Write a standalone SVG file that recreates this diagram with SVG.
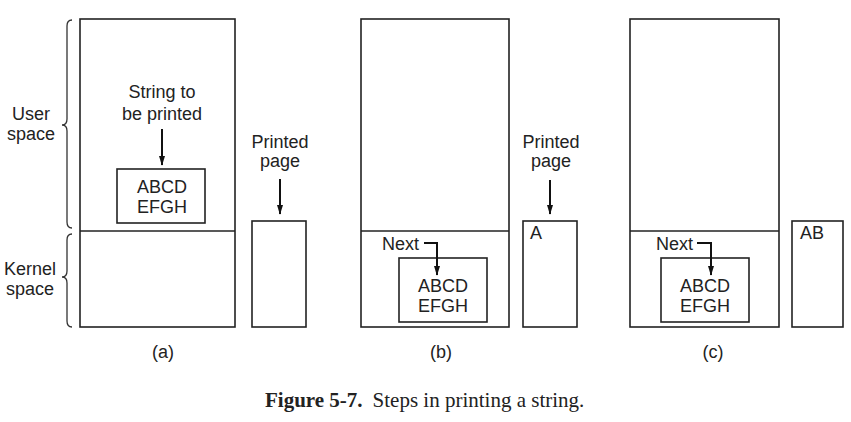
<svg xmlns="http://www.w3.org/2000/svg" width="851" height="422" viewBox="0 0 851 422">
<style>
.box{fill:none;stroke:#222;stroke-width:1.6}
.line{stroke:#222;stroke-width:1.3;fill:none}
.arr{stroke:#111;stroke-width:2;fill:none}
.brace{stroke:#333;stroke-width:1.3;fill:none}
text{font-family:"Liberation Sans",Arial,sans-serif;font-size:18px;fill:#222}
.c{text-anchor:middle}
.cap{font-family:"Liberation Serif","Times New Roman",serif;font-size:21px;fill:#222}
</style>
<defs>
<marker id="ah" markerWidth="10" markerHeight="13" refX="12" refY="4" orient="auto" markerUnits="userSpaceOnUse" viewBox="0 0 13 8">
<path d="M0,0 L13,4 L0,8 Z" fill="#111"/>
</marker>
</defs>
<rect width="851" height="422" fill="#fff"/>

<g id="braces">
<path class="brace" d="M72,20 Q67,20 67,26 L67,119 Q67,125 62,125 Q67,125 67,131 L67,222 Q67,228 72,228"/>
<path class="brace" d="M72,234 Q67,234 67,240 L67,271 Q67,277 62,277 Q67,277 67,283 L67,321 Q67,327 72,327"/>
<text class="c" x="31" y="120">User</text>
<text class="c" x="31" y="140">space</text>
<text class="c" x="30" y="275">Kernel</text>
<text class="c" x="30" y="295">space</text>
</g>

<g id="panel-a">
<rect class="box" x="80" y="19" width="155" height="308"/>
<line class="line" x1="80" y1="231" x2="235" y2="231"/>
<text class="c" x="162" y="98">String to</text>
<text class="c" x="162" y="120">be printed</text>
<rect class="box" x="117" y="169" width="88" height="54"/>
<text class="c" x="162" y="193">ABCD</text>
<text class="c" x="162" y="213">EFGH</text>
<rect class="box" x="252" y="221" width="54" height="106"/>
<text class="c" x="280" y="148">Printed</text>
<text class="c" x="280" y="167">page</text>
<text class="c" x="163" y="358">(a)</text>
</g>

<g id="panel-b">
<rect class="box" x="361" y="19" width="148" height="308"/>
<line class="line" x1="361" y1="231" x2="509" y2="231"/>
<rect class="box" x="399" y="258" width="88" height="64"/>
<text x="382" y="250">Next</text>
<text class="c" x="443" y="292">ABCD</text>
<text class="c" x="443" y="312">EFGH</text>
<rect class="box" x="523" y="221" width="54" height="106"/>
<text x="530" y="239">A</text>
<text class="c" x="551" y="148">Printed</text>
<text class="c" x="551" y="167">page</text>
<text class="c" x="441" y="358">(b)</text>
</g>

<g id="panel-c">
<rect class="box" x="630" y="19" width="149" height="308"/>
<line class="line" x1="630" y1="231" x2="779" y2="231"/>
<rect class="box" x="661" y="258" width="88" height="64"/>
<text x="656" y="250">Next</text>
<text class="c" x="705" y="292">ABCD</text>
<text class="c" x="705" y="312">EFGH</text>
<rect class="box" x="792" y="221" width="51" height="106"/>
<text x="800" y="239">AB</text>
<text class="c" x="713" y="358">(c)</text>
</g>

<g id="connectors">
<line class="arr" x1="162" y1="129" x2="162" y2="165" marker-end="url(#ah)"/>
<line class="arr" x1="280" y1="179" x2="280" y2="214" marker-end="url(#ah)"/>
<line class="arr" x1="550" y1="180" x2="550" y2="214" marker-end="url(#ah)"/>
<polyline class="arr" points="424,243 437,243 437,275" marker-end="url(#ah)"/>
<polyline class="arr" points="697,243 711,243 711,275" marker-end="url(#ah)"/>
</g>

<text class="cap" x="265" y="407"><tspan font-weight="bold">Figure 5-7.</tspan><tspan dx="10">Steps in printing a string.</tspan></text>
</svg>
